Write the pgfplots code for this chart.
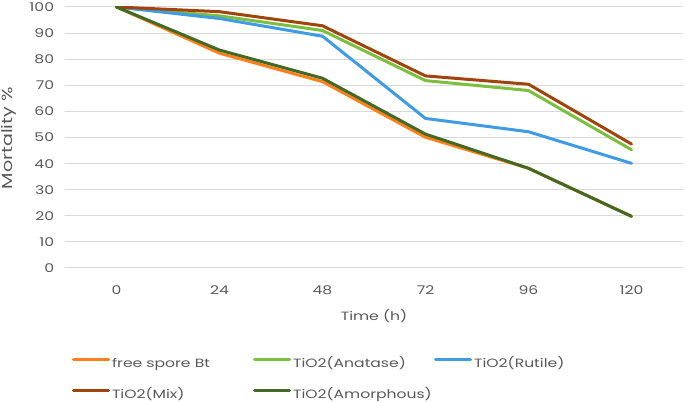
\documentclass[border=0pt]{standalone}
\usepackage{pgfplots}
\pgfplotsset{compat=1.18}
\usepackage{fontspec}
\setmainfont{Poppins}[FakeStretch=1.3]
\definecolor{txt}{HTML}{595959}
\definecolor{gridc}{HTML}{D9D9D9}
\definecolor{cOrange}{HTML}{FF7F1A}
\definecolor{cGreen}{HTML}{7CBF3F}
\definecolor{cBlue}{HTML}{3F9BE3}
\definecolor{cBrown}{HTML}{A0440C}
\definecolor{cDark}{HTML}{436A25}
\begin{document}
\fontsize{9}{11}\selectfont
\begin{tikzpicture}
\path[use as bounding box] (0pt,0pt) rectangle (513.75pt,302.25pt);
\begin{axis}[
  at={(48.75pt,101.25pt)}, anchor=south west,
  scale only axis, width=463.5pt, height=195.75pt,
  xmin=-0.5, xmax=5.5, ymin=0, ymax=100,
  xtick={0,1,2,3,4,5}, xticklabels={0,24,48,72,96,120},
  ytick={0,10,...,100},
  ymajorgrids, grid style={gridc, line width=0.75pt},
  axis line style={draw=none}, tick style={draw=none},
  /pgf/number format/assume math mode=true,
  every tick label/.append style={font=\fontsize{9}{11}\selectfont, text=txt},
  xticklabel style={anchor=center, inner sep=0pt, yshift=-16.5pt},
  yticklabel style={anchor=east, inner sep=0pt, xshift=-8pt},
  xlabel={Time (h)}, ylabel={Mortality \%},
  xlabel style={at={(axis description cs:0.5,-0.184)}, anchor=center, text=txt, font=\fontsize{9}{11}\selectfont},
  ylabel style={at={(axis description cs:-0.091,0.497)}, anchor=center, text=txt, font=\fontsize{11}{13}\selectfont},
  every axis plot/.append style={line width=2.25pt, line join=round, line cap=round, mark=none},
  legend columns=3,
  legend cell align=left,
  legend image code/.code={\draw[#1, line cap=round] (1.1pt,3pt) -- (27.4pt,3pt);},
  legend style={draw=none, fill=none, inner sep=0pt, outer sep=0pt,
    at={(axis description cs:0.0113,-0.3437)}, anchor=north west,
    row sep=14.25pt,
    nodes={inner sep=0pt, text height=7pt, text depth=2pt, text=txt, font=\fontsize{9}{11}\selectfont},
    /tikz/every odd column/.append style={column sep=1.5pt}},
]
\addplot[cOrange] coordinates {(0,100) (1,82.3) (2,71.4) (3,50.1) (4,38.2) (5,19.8)};
\addlegendentry{\makebox[105.75pt][l]{free spore Bt}}
\addplot[cGreen] coordinates {(0,100) (1,96.6) (2,91.0) (3,71.8) (4,68.0) (5,45.3)};
\addlegendentry{\makebox[105.75pt][l]{TiO2(Anatase)}}
\addplot[cBlue] coordinates {(0,100) (1,95.6) (2,88.8) (3,57.3) (4,52.2) (5,40.1)};
\addlegendentry{\makebox[105.75pt][l]{TiO2(Rutile)}}
\addplot[cBrown] coordinates {(0,100) (1,98.2) (2,92.8) (3,73.6) (4,70.4) (5,47.5)};
\addlegendentry{\makebox[105.75pt][l]{TiO2(Mix)}}
\addplot[cDark] coordinates {(0,100) (1,83.5) (2,72.7) (3,51.3) (4,38.2) (5,19.8)};
\addlegendentry{\makebox[105.75pt][l]{TiO2(Amorphous)}}
\end{axis}
\end{tikzpicture}
\end{document}
